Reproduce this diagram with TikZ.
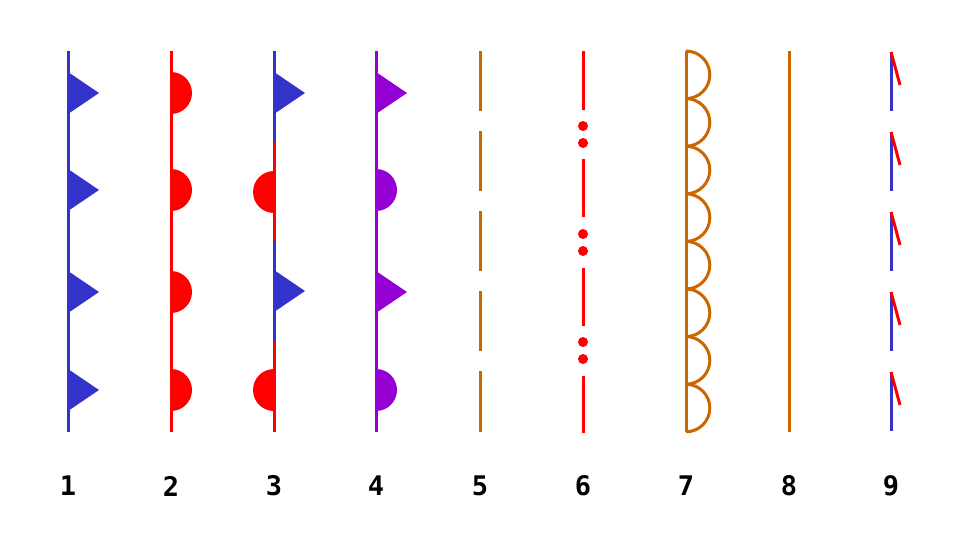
\documentclass[tikz,border=0pt]{standalone}
\usepackage{fontspec}
\setmainfont{DejaVu Sans Mono}
\begin{document}
\begin{tikzpicture}[x=1pt,y=-1pt,
  ln/.style={line width=3pt},
  lbl/.style={font=\bfseries\fontsize{27}{27}\selectfont,anchor=center}]
\definecolor{cb}{HTML}{3333CC}
\definecolor{cr}{HTML}{FF0000}
\definecolor{cp}{HTML}{9400D3}
\definecolor{co}{HTML}{CC6600}
\useasboundingbox (0,0) rectangle (960,549);
\def\tri#1#2#3{\fill[#3] (#1,#2-21) -- (#1+31,#2) -- (#1,#2+21) -- cycle;}
\def\semi#1#2#3#4{\fill[#4] (#1,#2-21) arc[start angle=90,end angle=#3,radius=21pt] -- cycle;}
% 1
\draw[ln,cb] (68,51) -- (68,432);
\foreach \y in {93,190,292,390}{\tri{68}{\y}{cb}}
% 2
\draw[ln,cr] (171,51) -- (171,432);
\foreach \y in {93,190,292,390}{\semi{171}{\y}{-90}{cr}}
% 3
\draw[ln,cb] (274,51) -- (274,142);
\draw[ln,cr] (274,142) -- (274,241);
\draw[ln,cb] (274,241) -- (274,341);
\draw[ln,cr] (274,341) -- (274,432);
\tri{274}{93}{cb}\tri{274}{291}{cb}
\semi{274}{192}{270}{cr}\semi{274}{390}{270}{cr}
% 4
\draw[ln,cp] (376,51) -- (376,432);
\tri{376}{93}{cp}\tri{376}{292}{cp}
\semi{376}{190}{-90}{cp}\semi{376}{390}{-90}{cp}
% 5
\foreach \a/\b in {51/111,131/191,211/271,291/351,371/432}{\draw[ln,co] (480,\a) -- (480,\b);}
% 6
\foreach \a/\b in {51/110,159/217,268/326,376/433}{\draw[ln,cr] (583,\a) -- (583,\b);}
\foreach \y in {126,143,234,251,342,359}{\fill[cr] (583,\y) circle (5pt);}
% 7
\draw[ln,co] (686,51) -- (686,432);
\foreach \i in {0,...,7}{\draw[ln,co] (686,{51+47.6*\i}) arc[start angle=90,end angle=-90,radius=23.8pt];}
% 8
\draw[ln,co] (789,51) -- (789,432);
% 9
\foreach \a in {52,132,212,292,372}{
  \draw[ln,cb] (891,\a) -- (891,\a+59);
  \draw[ln,cr] (891,\a) -- (900,\a+33);}
% labels
\foreach \x/\t in {68/1,171/2,274/3,376/4,480/5,583/6,686/7,789/8,891/9}{\node[lbl] at (\x,486) {\t};}
\end{tikzpicture}
\end{document}
